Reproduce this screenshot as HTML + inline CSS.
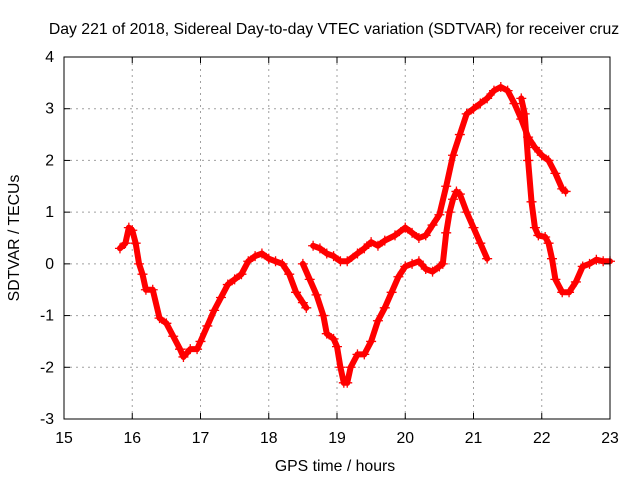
<!DOCTYPE html>
<html><head><meta charset="utf-8"><style>
body{margin:0;background:#fff}
svg text{font-family:"Liberation Sans",sans-serif;font-size:15.8px;fill:#000}
</style></head><body>
<svg id="c" width="640" height="480">
<text x="334" y="34" text-anchor="middle">Day 221 of 2018, Sidereal Day-to-day VTEC variation (SDTVAR) for receiver cruz</text>
<text x="335" y="471" text-anchor="middle">GPS time / hours</text>
<text transform="translate(19,238) rotate(-90)" text-anchor="middle">SDTVAR / TECUs</text>
<g id="grid"></g><g id="series"></g><g id="axes"></g>
</svg>
<script>
const xTicks=[15,16,17,18,19,20,21,22,23];
const yTicks=[-3,-2,-1,0,1,2,3,4];
const segAt=[15.82,15.9,15.95,16.0,16.05,16.1,16.15,16.2,16.3,16.4,16.5,16.6,16.7,16.75,16.85,16.95,17.0,17.1,17.2,17.3,17.4,17.5,17.6,17.7,17.8,17.9,18.0,18.1,18.2,18.3,18.4,18.5,18.55];
const segAv=[0.3,0.4,0.7,0.65,0.4,0.0,-0.2,-0.5,-0.5,-1.05,-1.15,-1.4,-1.65,-1.8,-1.65,-1.65,-1.5,-1.2,-0.9,-0.65,-0.4,-0.3,-0.2,0.05,0.15,0.2,0.1,0.05,0.0,-0.2,-0.55,-0.75,-0.85];
const segBt=[18.5,18.6,18.7,18.8,18.85,18.95,19.0,19.05,19.1,19.15,19.2,19.3,19.4,19.5,19.6,19.7,19.8,19.9,20.0,20.1,20.2,20.3,20.4,20.5,20.55,20.6,20.65,20.7,20.75,20.8,20.9,21.0,21.1,21.2];
const segBv=[0.0,-0.3,-0.6,-1.0,-1.35,-1.45,-1.6,-2.0,-2.3,-2.3,-2.0,-1.75,-1.75,-1.5,-1.1,-0.85,-0.55,-0.25,-0.05,0.0,0.05,-0.1,-0.15,-0.05,0.0,0.6,1.0,1.25,1.4,1.35,1.0,0.7,0.4,0.1];
const segCt=[18.65,18.75,18.85,18.95,19.05,19.15,19.3,19.4,19.5,19.6,19.7,19.85,20.0,20.1,20.2,20.3,20.4,20.5,20.6,20.7,20.8,20.9,21.0,21.1,21.2,21.3,21.4,21.5,21.6,21.7,21.8,21.9,22.0,22.1,22.2,22.3,22.35];
const segCv=[0.35,0.3,0.2,0.15,0.05,0.05,0.2,0.3,0.42,0.35,0.45,0.55,0.7,0.6,0.5,0.55,0.75,0.95,1.5,2.1,2.5,2.9,3.0,3.1,3.2,3.35,3.42,3.35,3.1,2.8,2.45,2.25,2.1,2.0,1.75,1.45,1.4];
const segDt=[21.7,21.75,21.8,21.85,21.9,21.95,22.05,22.1,22.15,22.2,22.3,22.4,22.5,22.6,22.7,22.8,22.9,23.0];
const segDv=[3.2,2.9,2.0,1.2,0.7,0.55,0.52,0.4,0.1,-0.3,-0.55,-0.55,-0.35,-0.05,0.0,0.08,0.05,0.05];
const L=64,R=610,T=57,B=419;
const sx=t=>L+(t-15)/8*(R-L);
const sy=v=>B-(v+3)/7*(B-T);
const NS='http://www.w3.org/2000/svg';
function mk(tag,attrs,parent){const e=document.createElementNS(NS,tag);for(const k in attrs)e.setAttribute(k,attrs[k]);parent.appendChild(e);return e;}
const grid=document.getElementById('grid'),axes=document.getElementById('axes'),ser=document.getElementById('series');
xTicks.forEach(t=>{
 const x=sx(t);
 if(t>15&&t<23){const g=mk('line',{x1:x,x2:x,y1:T,y2:B,stroke:'#a0a0a0','stroke-dasharray':'2,4'},grid);
 
 }
 mk('line',{x1:x,x2:x,y1:B,y2:B-6,stroke:'#000'},axes);
 mk('line',{x1:x,x2:x,y1:T,y2:T+6,stroke:'#000'},axes);
 const tx=mk('text',{x:x,y:B+24,'text-anchor':'middle'},axes);tx.textContent=t;
 
 
});
yTicks.forEach(v=>{
 const y=sy(v);
 if(v>-3&&v<4){const g=mk('line',{x1:L,x2:R,y1:y,y2:y,stroke:'#a0a0a0','stroke-dasharray':'2,4'},grid);
 
 }
 mk('line',{x1:L,x2:L+6,y1:y,y2:y,stroke:'#000'},axes);
 mk('line',{x1:R,x2:R-6,y1:y,y2:y,stroke:'#000'},axes);
 const tx=mk('text',{x:L-10,y:y+5,'text-anchor':'end'},axes);tx.textContent=v;
 
 
});
const fr=mk('rect',{x:L,y:T,width:R-L,height:B-T,fill:'none',stroke:'#000'},axes);


[[segAt,segAv,'a'],[segBt,segBv,'b'],[segCt,segCv,'c'],[segDt,segDv,'d']].forEach(([ts,vs,n])=>{
 const pts=ts.map((t,i)=>sx(t)+','+sy(vs[i])).join(' ');
 const pl=mk('polyline',{points:pts,fill:'none',stroke:'#f00','stroke-width':6,'stroke-linejoin':'round','stroke-linecap':'round'},ser);
 
 
 ts.forEach((t,i)=>{
  const x=sx(t),y=sy(vs[i]);
  const p=mk('path',{d:`M${x-5},${y}H${x+5}M${x},${y-5}V${y+5}`,stroke:'#f00','stroke-width':1.3},ser);
  
  
 });
});
</script>
</body></html>
